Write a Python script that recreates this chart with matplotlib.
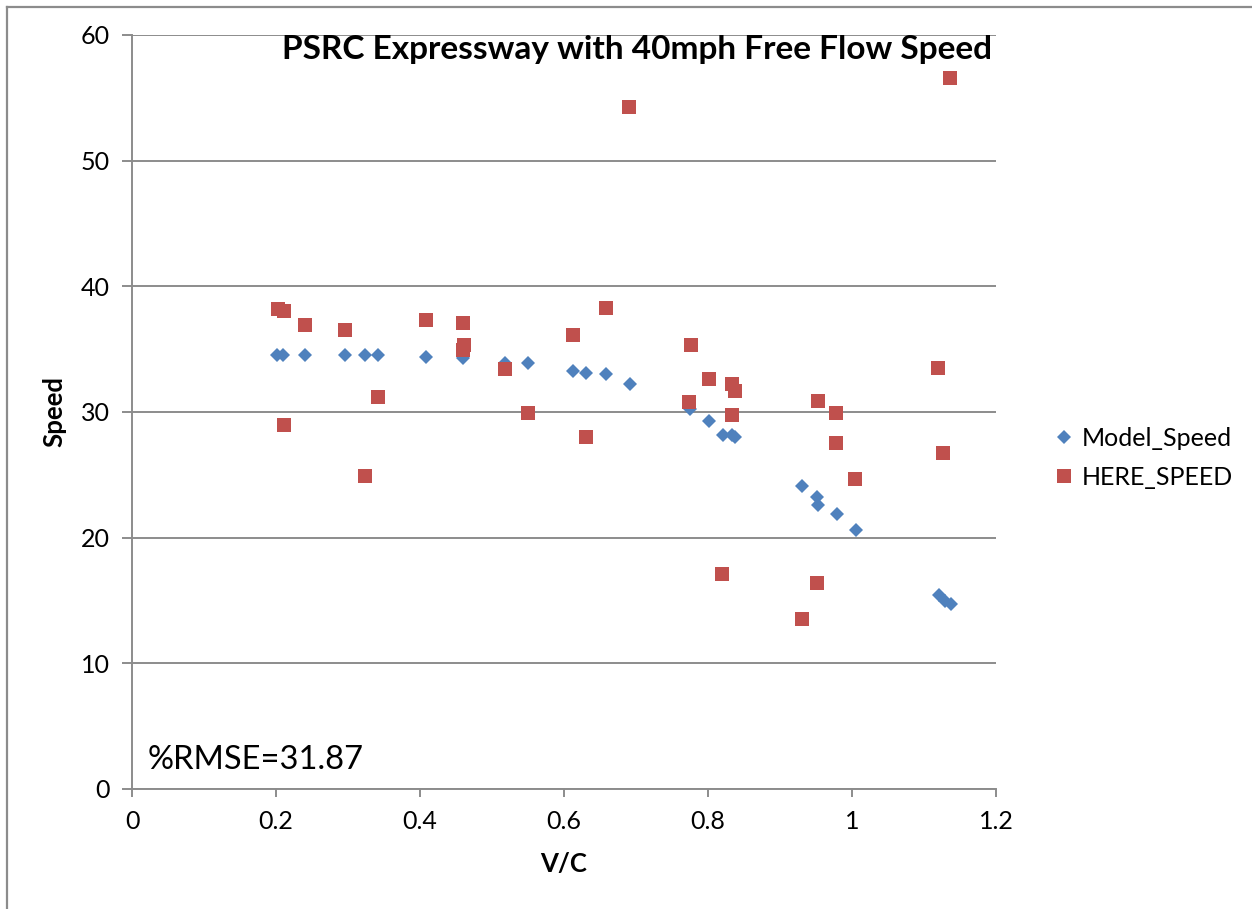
import matplotlib
matplotlib.use('Agg')
import matplotlib.pyplot as plt
from matplotlib.lines import Line2D

plt.rcParams['font.family'] = ['Lato', 'DejaVu Sans']

# Model_Speed series (v/c, speed)
model_vc = [0.202, 0.210, 0.240, 0.296, 0.323, 0.341, 0.409, 0.460, 0.518, 0.550,
            0.613, 0.631, 0.658, 0.691, 0.775, 0.802, 0.821, 0.833, 0.838,
            0.931, 0.951, 0.953, 0.979, 1.005, 1.121, 1.129, 1.137]
model_speed = [34.5, 34.5, 34.5, 34.5, 34.5, 34.5, 34.4, 34.3, 33.9, 33.9,
               33.3, 33.1, 33.0, 32.2, 30.2, 29.3, 28.2, 28.2, 28.0,
               24.1, 23.2, 22.6, 21.9, 20.6, 15.4, 15.0, 14.7]

# HERE_SPEED series (v/c, speed)
here_vc = [0.203, 0.211, 0.240, 0.296, 0.409, 0.460, 0.461, 0.460, 0.518, 0.341,
           0.550, 0.211, 0.323, 0.658, 0.613, 0.776, 0.801, 0.833, 0.837, 0.774,
           0.834, 0.630, 0.953, 0.978, 0.978, 1.004, 1.127, 0.951, 0.931,
           0.690, 1.136, 1.119, 0.819]
here_speed = [38.2, 38.0, 36.9, 36.5, 37.3, 37.1, 35.3, 34.9, 33.4, 31.2,
              29.9, 29.0, 24.9, 38.3, 36.1, 35.3, 32.6, 32.2, 31.7, 30.8,
              29.8, 28.0, 30.9, 29.9, 27.5, 24.7, 26.7, 16.4, 13.5,
              54.3, 56.6, 33.5, 17.1]

x_ticks = [0, 0.2, 0.4, 0.6, 0.8, 1.0, 1.2]
x_ticklabels = ['0', '0.2', '0.4', '0.6', '0.8', '1', '1.2']
y_ticks = [0, 10, 20, 30, 40, 50, 60]

blue = '#4F81BD'
red = '#C0504D'
grey = '#8c8c8c'

fig = plt.figure(figsize=(12.52, 9.09), dpi=100)
ax = fig.add_axes([132 / 1252, 1 - 789 / 909, 864 / 1252, 754 / 909])

ax.plot(model_vc, model_speed, linestyle='none', marker='D', markersize=7.2,
        color=blue, markeredgewidth=0, label='Model_Speed', zorder=3)
ax.plot(here_vc, here_speed, linestyle='none', marker='s', markersize=9.4,
        color=red, markeredgewidth=0, label='HERE_SPEED', zorder=4)

ax.set_xlim(0, 1.2)
ax.set_ylim(0, 60)
ax.set_xticks(x_ticks)
ax.set_xticklabels(x_ticklabels)
ax.set_yticks(y_ticks)
ax.grid(True, axis='y', color=grey, linewidth=1.4)
ax.set_axisbelow(True)

for side in ['top', 'right']:
    ax.spines[side].set_visible(False)
for side in ['left', 'bottom']:
    ax.spines[side].set_color(grey)
    ax.spines[side].set_linewidth(1.4)

ax.tick_params(axis='y', direction='out', length=7, width=1.4, color=grey,
               labelsize=18, pad=9)
ax.tick_params(axis='x', direction='out', length=6, width=1.4, color=grey,
               labelsize=18, pad=9)

ax.set_xlabel('V/C', fontsize=18.5, fontweight='bold')
ax.xaxis.set_label_coords(0.5, -0.083)
ax.set_ylabel('Speed', fontsize=18.5, fontweight='bold')
ax.yaxis.set_label_coords(-0.076, 0.5)

ax.text(0.022, 1.6, '%RMSE=31.87', fontsize=23.5, va='baseline', ha='left')

fig.text(992 / 1252, 1 - 50 / 909, 'PSRC Expressway with 40mph Free Flow Speed',
         fontsize=24, fontweight='bold', ha='right', va='center')

ax.legend(loc='center left', bbox_to_anchor=(1054 / 1252, 1 - 458 / 909),
          bbox_transform=fig.transFigure, frameon=False, fontsize=18,
          numpoints=1, handlelength=0.8, handletextpad=0.3, labelspacing=0.65,
          borderpad=0, borderaxespad=0)

# outer chart border (left and top edges visible)
fig.add_artist(Line2D([7 / 1252, 7 / 1252], [0, 1 - 7 / 909], color=grey, linewidth=1.6,
                      transform=fig.transFigure))
fig.add_artist(Line2D([7 / 1252, 1], [1 - 7 / 909, 1 - 7 / 909], color=grey, linewidth=1.6,
                      transform=fig.transFigure))

fig.savefig('out.png', dpi=100)
plt.close(fig)
